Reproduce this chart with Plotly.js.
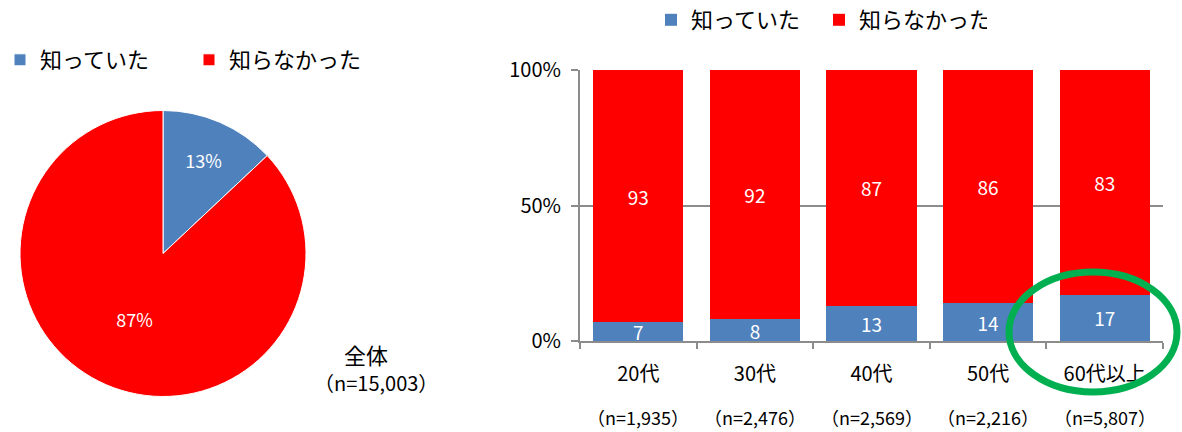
<!DOCTYPE html>
<html>
<head>
<meta charset="utf-8">
<script src="https://cdn.plot.ly/plotly-3.0.1.min.js"></script>
<style>html,body{margin:0;padding:0;background:#fff;}#chart{width:1182px;height:432px;}</style>
</head>
<body>
<div id="chart"></div>
<script>
// ---- data ----
const seriesNames = ['知っていた', '知らなかった'];
const pieValues = [13, 87];
const totalLabel = '全体';
const totalN = '（n=15,003）';
const categories = ['20代', '30代', '40代', '50代', '60代以上'];
const knew = [7, 8, 13, 14, 17];
const didNotKnow = [93, 92, 87, 86, 83];
const nLabels = ['（n=1,935）', '（n=2,476）', '（n=2,569）', '（n=2,216）', '（n=5,807）'];
const yTicks = [0, 50, 100];

const BLUE = '#4F81BD', RED = '#FF0000', GRID = '#8C8C8C';
const FONT = '"Noto Sans CJK JP", "Noto Sans", sans-serif';
const W = 1182, H = 432;
const px = v => v / W;
const py = v => 1 - v / H;

const traces = [
  {
    type: 'pie', labels: seriesNames, values: pieValues,
    marker: {colors: [BLUE, RED], line: {color: '#fff', width: 1}},
    sort: false, direction: 'clockwise', rotation: 0,
    textinfo: 'percent', textposition: 'inside', insidetextorientation: 'horizontal',
    textfont: {color: '#fff', size: 18, family: FONT},
    domain: {x: [px(20), px(306)], y: [py(397), py(110)]},
    legend: 'legend', hoverinfo: 'label+percent'
  },
  {
    type: 'bar', name: seriesNames[0], x: categories, y: knew,
    marker: {color: BLUE}, text: knew.map(String), textposition: 'inside',
    insidetextanchor: 'middle', constraintext: 'none', textangle: 0,
    textfont: {color: '#fff', size: 19, family: FONT}, legend: 'legend2'
  },
  {
    type: 'bar', name: seriesNames[1], x: categories, y: didNotKnow,
    marker: {color: RED}, text: didNotKnow.map(String), textposition: 'inside',
    insidetextanchor: 'middle', constraintext: 'none', textangle: 0,
    textfont: {color: '#fff', size: 19, family: FONT}, legend: 'legend2'
  }
];

const annotations = [
  {xref: 'paper', yref: 'paper', x: px(366), y: py(354), text: totalLabel, showarrow: false,
   font: {size: 22, family: FONT, color: '#000'}, xanchor: 'center', yanchor: 'middle'},
  {xref: 'paper', yref: 'paper', x: px(376), y: py(382), text: totalN, showarrow: false,
   font: {size: 20, family: FONT, color: '#000'}, xanchor: 'center', yanchor: 'middle'}
];
categories.forEach((c, i) => {
  annotations.push({xref: 'x', yref: 'paper', x: c, y: py(417), text: nLabels[i], showarrow: false,
    font: {size: 18, family: FONT, color: '#000'}, xanchor: 'center', yanchor: 'middle'});
});

const layout = {
  width: W, height: H,
  margin: {l: 0, r: 0, t: 0, b: 0, autoexpand: false},
  paper_bgcolor: '#fff', plot_bgcolor: '#fff',
  font: {family: FONT, color: '#000'},
  barmode: 'stack', bargap: 0.228,
  showlegend: true,
  legend: {orientation: 'h', x: 0, y: py(60), xanchor: 'left', yanchor: 'middle',
    entrywidth: 144, entrywidthmode: 'pixels', font: {size: 22, family: FONT},
    bgcolor: 'rgba(0,0,0,0)'},
  legend2: {orientation: 'h', x: px(651), y: py(20), xanchor: 'left', yanchor: 'middle',
    entrywidth: 123, entrywidthmode: 'pixels', font: {size: 22, family: FONT},
    bgcolor: 'rgba(0,0,0,0)', traceorder: 'normal'},
  xaxis: {
    domain: [px(580), px(1163)], anchor: 'y', type: 'category',
    showline: true, linecolor: GRID, linewidth: 2,
    ticks: 'outside', tickson: 'boundaries', ticklen: 6, tickcolor: GRID, tickwidth: 2,
    showgrid: false, tickfont: {size: 20, family: FONT}, ticklabelstandoff: 14,
    fixedrange: true
  },
  yaxis: {
    domain: [py(341), py(70)], anchor: 'x', range: [0, 100],
    tickvals: yTicks, ticktext: yTicks.map(v => v + '%'),
    showline: true, linecolor: GRID, linewidth: 2,
    ticks: 'outside', ticklen: 7, tickcolor: GRID, tickwidth: 2,
    showgrid: true, gridcolor: GRID, gridwidth: 2, zeroline: false,
    tickfont: {size: 20, family: FONT}, ticklabelstandoff: 6, fixedrange: true
  },
  shapes: [
    {type: 'circle', xref: 'paper', yref: 'paper',
     x0: px(1009), x1: px(1177), y0: py(392), y1: py(272),
     line: {color: '#00B050', width: 7}}
  ],
  annotations: annotations
};

Plotly.newPlot('chart', traces, layout, {displayModeBar: false, staticPlot: true});
</script>
</body>
</html>
